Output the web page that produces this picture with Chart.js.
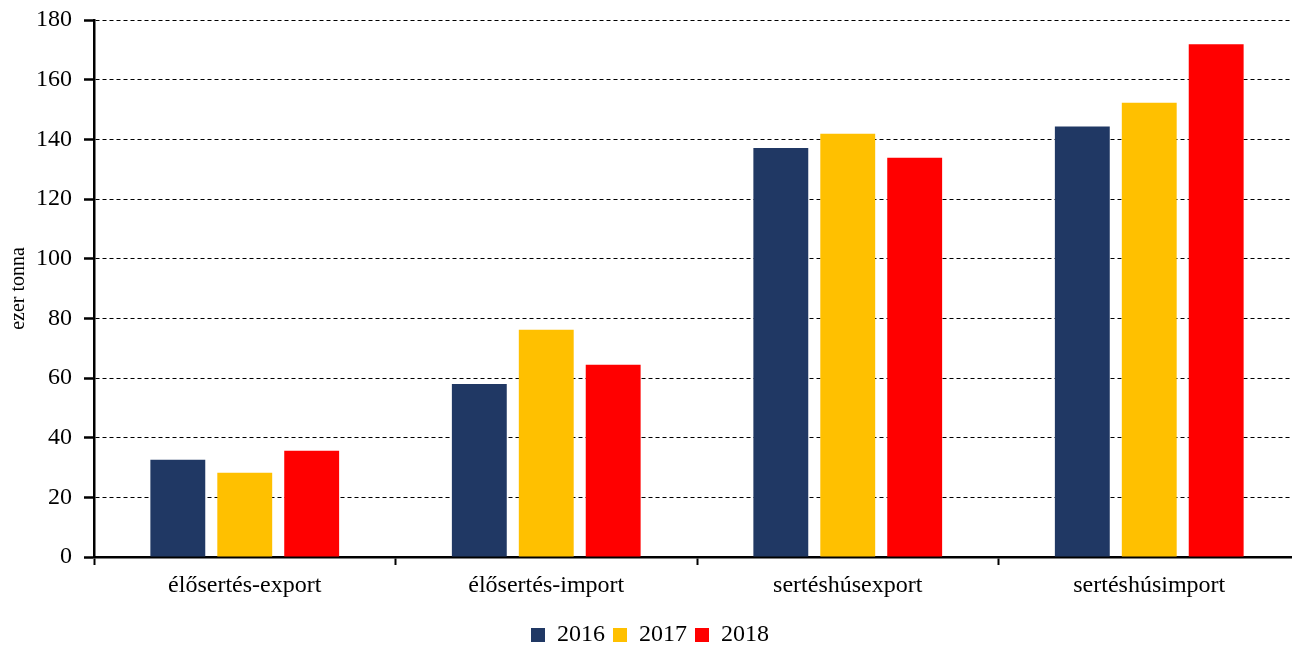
<!DOCTYPE html>
<html>
<head>
<meta charset="utf-8">
<script src="https://cdn.jsdelivr.net/npm/chart.js@4.4.1/dist/chart.umd.min.js"></script>
<style>
  html, body { margin: 0; padding: 0; background: #fff; overflow: hidden; }
  #wrap { width: 1304px; height: 646px; }
</style>
</head>
<body>
<div id="wrap"><canvas id="chart"></canvas></div>
<script>
const categories = ["élősertés-export", "élősertés-import", "sertéshúsexport", "sertéshúsimport"];
const years = ["2016", "2017", "2018"];
const values2016 = [32.6, 58.0, 137.1, 144.3];
const values2017 = [28.2, 76.2, 141.9, 152.3];
const values2018 = [35.6, 64.4, 133.8, 171.9];
const colors = ["#203864", "#FFC000", "#FF0000"];

const family = "'Liberation Serif', 'Times New Roman', serif";
const font = { family, size: 24 };

const series = [values2016, values2017, values2018];
const datasets = years.map((y, i) => ({
  label: y,
  data: series[i],
  backgroundColor: colors[i],
  borderWidth: 0,
  categoryPercentage: 0.666,
  barPercentage: 0.82,
}));

new Chart(document.getElementById("chart"), {
  type: "bar",
  data: { labels: categories, datasets },
  options: {
    responsive: true,
    maintainAspectRatio: false,
    animation: false,
    layout: { padding: { top: 0, right: 4, left: 0, bottom: -11 } },
    plugins: {
      tooltip: { enabled: false },
      legend: {
        position: "bottom",
        labels: {
          color: "#000",
          font: { family, size: 24, lineHeight: 1 },
          boxWidth: 14,
          boxHeight: 14,
          padding: 8,
        },
      },
    },
    scales: {
      x: {
        grid: {
          offset: true,
          drawOnChartArea: false,
          drawTicks: true,
          tickLength: 8,
          tickWidth: 2,
          tickColor: "#000",
        },
        border: { display: true, color: "#000", width: 2.5 },
        ticks: { color: "#000", font, padding: 6 },
        afterFit: (s) => { s.height = 58; },
      },
      y: {
        min: 0,
        max: 180,
        ticks: { stepSize: 20, color: "#000", font, padding: 12 },
        grid: {
          color: "#000",
          lineWidth: 1,
          tickLength: 10,
          tickWidth: 2.5,
          tickColor: "#000",
        },
        border: { display: true, color: "#000", width: 2.5, dash: [4, 3] },
        title: { display: true, text: "ezer tonna", color: "#000", font: { family, size: 20 }, padding: { top: 7, bottom: 0 } },
        afterFit: (s) => { s.width = 94; s.paddingTop = 20; s.paddingBottom = 12; },
      },
    },
  },
});
</script>
</body>
</html>
